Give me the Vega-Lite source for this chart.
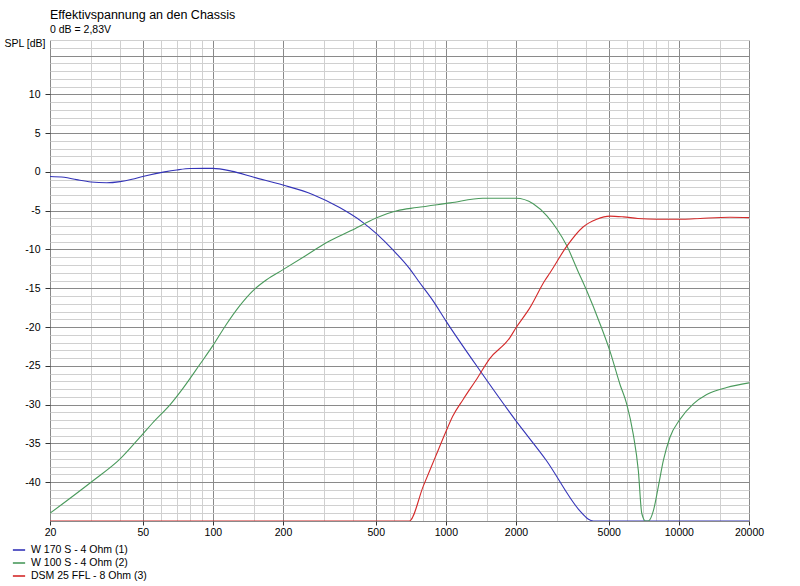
{
  "$schema": "https://vega.github.io/schema/vega-lite/v6.json",
  "width": 699,
  "height": 481,
  "autosize": {"type": "none"},
  "padding": {"left": 50, "top": 40, "right": 51, "bottom": 65},
  "background": "white",
  "title": {
    "text": "Effektivspannung an den Chassis",
    "subtitle": "0 dB = 2,83V",
    "anchor": "start",
    "frame": "group",
    "font": "Liberation Sans",
    "fontSize": 12.5,
    "fontWeight": "normal",
    "color": "#000000",
    "subtitleFont": "Liberation Sans",
    "subtitleFontSize": 10.5,
    "subtitleColor": "#000000",
    "subtitlePadding": 3,
    "offset": 0
  },
  "data": {
    "values": [
      {"f": 20, "db": -0.6, "s": "W 170 S - 4 Ohm (1)"},
      {"f": 23, "db": -0.7, "s": "W 170 S - 4 Ohm (1)"},
      {"f": 26, "db": -1.0, "s": "W 170 S - 4 Ohm (1)"},
      {"f": 30, "db": -1.3, "s": "W 170 S - 4 Ohm (1)"},
      {"f": 35, "db": -1.4, "s": "W 170 S - 4 Ohm (1)"},
      {"f": 40, "db": -1.25, "s": "W 170 S - 4 Ohm (1)"},
      {"f": 45, "db": -0.95, "s": "W 170 S - 4 Ohm (1)"},
      {"f": 50, "db": -0.6, "s": "W 170 S - 4 Ohm (1)"},
      {"f": 62, "db": 0.0, "s": "W 170 S - 4 Ohm (1)"},
      {"f": 70, "db": 0.25, "s": "W 170 S - 4 Ohm (1)"},
      {"f": 80, "db": 0.43, "s": "W 170 S - 4 Ohm (1)"},
      {"f": 100, "db": 0.45, "s": "W 170 S - 4 Ohm (1)"},
      {"f": 120, "db": 0.1, "s": "W 170 S - 4 Ohm (1)"},
      {"f": 150, "db": -0.7, "s": "W 170 S - 4 Ohm (1)"},
      {"f": 200, "db": -1.7, "s": "W 170 S - 4 Ohm (1)"},
      {"f": 268, "db": -2.9, "s": "W 170 S - 4 Ohm (1)"},
      {"f": 350, "db": -4.6, "s": "W 170 S - 4 Ohm (1)"},
      {"f": 440, "db": -6.5, "s": "W 170 S - 4 Ohm (1)"},
      {"f": 505, "db": -8.0, "s": "W 170 S - 4 Ohm (1)"},
      {"f": 590, "db": -10.0, "s": "W 170 S - 4 Ohm (1)"},
      {"f": 700, "db": -12.5, "s": "W 170 S - 4 Ohm (1)"},
      {"f": 760, "db": -14.0, "s": "W 170 S - 4 Ohm (1)"},
      {"f": 880, "db": -16.6, "s": "W 170 S - 4 Ohm (1)"},
      {"f": 1000, "db": -19.2, "s": "W 170 S - 4 Ohm (1)"},
      {"f": 1400, "db": -25.6, "s": "W 170 S - 4 Ohm (1)"},
      {"f": 2000, "db": -32.1, "s": "W 170 S - 4 Ohm (1)"},
      {"f": 2700, "db": -37.2, "s": "W 170 S - 4 Ohm (1)"},
      {"f": 3760, "db": -43.7, "s": "W 170 S - 4 Ohm (1)"},
      {"f": 4060, "db": -44.7, "s": "W 170 S - 4 Ohm (1)"},
      {"f": 4300, "db": -45, "s": "W 170 S - 4 Ohm (1)"},
      {"f": 20000, "db": -45, "s": "W 170 S - 4 Ohm (1)"},

      {"f": 20, "db": -44.0, "s": "W 100 S - 4 Ohm (2)"},
      {"f": 30, "db": -40.0, "s": "W 100 S - 4 Ohm (2)"},
      {"f": 40, "db": -37.0, "s": "W 100 S - 4 Ohm (2)"},
      {"f": 50, "db": -33.8, "s": "W 100 S - 4 Ohm (2)"},
      {"f": 55, "db": -32.4, "s": "W 100 S - 4 Ohm (2)"},
      {"f": 66, "db": -29.9, "s": "W 100 S - 4 Ohm (2)"},
      {"f": 74, "db": -28.0, "s": "W 100 S - 4 Ohm (2)"},
      {"f": 88, "db": -24.8, "s": "W 100 S - 4 Ohm (2)"},
      {"f": 100, "db": -22.4, "s": "W 100 S - 4 Ohm (2)"},
      {"f": 114, "db": -19.7, "s": "W 100 S - 4 Ohm (2)"},
      {"f": 130, "db": -17.3, "s": "W 100 S - 4 Ohm (2)"},
      {"f": 150, "db": -15.2, "s": "W 100 S - 4 Ohm (2)"},
      {"f": 170, "db": -13.9, "s": "W 100 S - 4 Ohm (2)"},
      {"f": 200, "db": -12.6, "s": "W 100 S - 4 Ohm (2)"},
      {"f": 250, "db": -10.8, "s": "W 100 S - 4 Ohm (2)"},
      {"f": 308, "db": -9.1, "s": "W 100 S - 4 Ohm (2)"},
      {"f": 390, "db": -7.6, "s": "W 100 S - 4 Ohm (2)"},
      {"f": 505, "db": -5.9, "s": "W 100 S - 4 Ohm (2)"},
      {"f": 617, "db": -5.0, "s": "W 100 S - 4 Ohm (2)"},
      {"f": 750, "db": -4.6, "s": "W 100 S - 4 Ohm (2)"},
      {"f": 1045, "db": -4.0, "s": "W 100 S - 4 Ohm (2)"},
      {"f": 1440, "db": -3.4, "s": "W 100 S - 4 Ohm (2)"},
      {"f": 2000, "db": -3.4, "s": "W 100 S - 4 Ohm (2)"},
      {"f": 2370, "db": -4.1, "s": "W 100 S - 4 Ohm (2)"},
      {"f": 2720, "db": -5.7, "s": "W 100 S - 4 Ohm (2)"},
      {"f": 3000, "db": -7.4, "s": "W 100 S - 4 Ohm (2)"},
      {"f": 3300, "db": -9.5, "s": "W 100 S - 4 Ohm (2)"},
      {"f": 3690, "db": -12.8, "s": "W 100 S - 4 Ohm (2)"},
      {"f": 4020, "db": -15.3, "s": "W 100 S - 4 Ohm (2)"},
      {"f": 4590, "db": -19.6, "s": "W 100 S - 4 Ohm (2)"},
      {"f": 5060, "db": -23.1, "s": "W 100 S - 4 Ohm (2)"},
      {"f": 5590, "db": -27.4, "s": "W 100 S - 4 Ohm (2)"},
      {"f": 5970, "db": -29.9, "s": "W 100 S - 4 Ohm (2)"},
      {"f": 6370, "db": -33.8, "s": "W 100 S - 4 Ohm (2)"},
      {"f": 6700, "db": -38.5, "s": "W 100 S - 4 Ohm (2)"},
      {"f": 6930, "db": -44.0, "s": "W 100 S - 4 Ohm (2)"},
      {"f": 7200, "db": -45, "s": "W 100 S - 4 Ohm (2)"},
      {"f": 7390, "db": -45, "s": "W 100 S - 4 Ohm (2)"},
      {"f": 7770, "db": -43.7, "s": "W 100 S - 4 Ohm (2)"},
      {"f": 8160, "db": -40.6, "s": "W 100 S - 4 Ohm (2)"},
      {"f": 8580, "db": -37.2, "s": "W 100 S - 4 Ohm (2)"},
      {"f": 9160, "db": -34.2, "s": "W 100 S - 4 Ohm (2)"},
      {"f": 10110, "db": -31.9, "s": "W 100 S - 4 Ohm (2)"},
      {"f": 11540, "db": -29.9, "s": "W 100 S - 4 Ohm (2)"},
      {"f": 13170, "db": -28.7, "s": "W 100 S - 4 Ohm (2)"},
      {"f": 16040, "db": -27.8, "s": "W 100 S - 4 Ohm (2)"},
      {"f": 20000, "db": -27.2, "s": "W 100 S - 4 Ohm (2)"},

      {"f": 20, "db": -45, "s": "DSM 25 FFL - 8 Ohm (3)"},
      {"f": 697, "db": -45, "s": "DSM 25 FFL - 8 Ohm (3)"},
      {"f": 800, "db": -40.5, "s": "DSM 25 FFL - 8 Ohm (3)"},
      {"f": 900, "db": -36.8, "s": "DSM 25 FFL - 8 Ohm (3)"},
      {"f": 1000, "db": -33.5, "s": "DSM 25 FFL - 8 Ohm (3)"},
      {"f": 1070, "db": -31.5, "s": "DSM 25 FFL - 8 Ohm (3)"},
      {"f": 1188, "db": -29.3, "s": "DSM 25 FFL - 8 Ohm (3)"},
      {"f": 1370, "db": -26.5, "s": "DSM 25 FFL - 8 Ohm (3)"},
      {"f": 1540, "db": -24.1, "s": "DSM 25 FFL - 8 Ohm (3)"},
      {"f": 1880, "db": -21.4, "s": "DSM 25 FFL - 8 Ohm (3)"},
      {"f": 2000, "db": -20.1, "s": "DSM 25 FFL - 8 Ohm (3)"},
      {"f": 2296, "db": -17.5, "s": "DSM 25 FFL - 8 Ohm (3)"},
      {"f": 2660, "db": -14.0, "s": "DSM 25 FFL - 8 Ohm (3)"},
      {"f": 2800, "db": -13.0, "s": "DSM 25 FFL - 8 Ohm (3)"},
      {"f": 3300, "db": -9.6, "s": "DSM 25 FFL - 8 Ohm (3)"},
      {"f": 3880, "db": -7.1, "s": "DSM 25 FFL - 8 Ohm (3)"},
      {"f": 4440, "db": -6.1, "s": "DSM 25 FFL - 8 Ohm (3)"},
      {"f": 5060, "db": -5.7, "s": "DSM 25 FFL - 8 Ohm (3)"},
      {"f": 5780, "db": -5.8, "s": "DSM 25 FFL - 8 Ohm (3)"},
      {"f": 6670, "db": -6.0, "s": "DSM 25 FFL - 8 Ohm (3)"},
      {"f": 8030, "db": -6.1, "s": "DSM 25 FFL - 8 Ohm (3)"},
      {"f": 10450, "db": -6.1, "s": "DSM 25 FFL - 8 Ohm (3)"},
      {"f": 12330, "db": -6.0, "s": "DSM 25 FFL - 8 Ohm (3)"},
      {"f": 16570, "db": -5.85, "s": "DSM 25 FFL - 8 Ohm (3)"},
      {"f": 20000, "db": -5.9, "s": "DSM 25 FFL - 8 Ohm (3)"}
    ]
  },
  "mark": {"type": "line", "strokeWidth": 1.1, "interpolate": "monotone", "clip": true},
  "encoding": {
    "x": {
      "field": "f",
      "type": "quantitative",
      "scale": {"type": "log", "domain": [20, 20000], "nice": false},
      "axis": {
        "title": null,
        "values": [20, 30, 40, 50, 60, 70, 80, 90, 100, 150, 200, 300, 400, 500, 600, 700, 800, 900, 1000, 1500, 2000, 3000, 4000, 5000, 6000, 7000, 8000, 9000, 10000, 15000, 20000],
        "labelExpr": "indexof([20, 50, 100, 200, 500, 1000, 2000, 5000, 10000, 20000], datum.value) >= 0 ? '' + datum.value : ''",
        "gridColor": {"condition": {"test": "indexof([20, 50, 100, 200, 500, 1000, 2000, 5000, 10000, 20000], datum.value) >= 0", "value": "#8a8a8a"}, "value": "#d0d0d0"},
        "tickOpacity": {"condition": {"test": "indexof([20, 50, 100, 200, 500, 1000, 2000, 5000, 10000, 20000], datum.value) >= 0", "value": 1}, "value": 0},
        "tickSize": 4,
        "labelPadding": 2,
        "labelFlush": false,
        "labelOverlap": false,
        "domain": false
      }
    },
    "y": {
      "field": "db",
      "type": "quantitative",
      "scale": {"domain": [-45, 17], "nice": false, "zero": false},
      "axis": {
        "title": "SPL [dB]",
        "titleAngle": 0,
        "titleAlign": "right",
        "titleBaseline": "top",
        "titleX": -5,
        "titleY": -2,
        "titleFont": "Liberation Sans",
        "titleFontSize": 10.5,
        "titleFontWeight": "normal",
        "titleColor": "#000000",
        "values": [-45, -44, -43, -42, -41, -40, -39, -38, -37, -36, -35, -34, -33, -32, -31, -30, -29, -28, -27, -26, -25, -24, -23, -22, -21, -20, -19, -18, -17, -16, -15, -14, -13, -12, -11, -10, -9, -8, -7, -6, -5, -4, -3, -2, -1, 0, 1, 2, 3, 4, 5, 6, 7, 8, 9, 10, 11, 12, 13, 14, 15, 16, 17],
        "labelExpr": "(datum.value % 5 == 0 && datum.value >= -40 && datum.value <= 10) ? '' + datum.value : ''",
        "gridColor": {"condition": {"test": "datum.value % 5 == 0", "value": "#8a8a8a"}, "value": "#d0d0d0"},
        "tickOpacity": {"condition": {"test": "datum.value % 5 == 0 && datum.value >= -40 && datum.value <= 10", "value": 1}, "value": 0},
        "tickSize": 5,
        "labelPadding": 5,
        "labelOverlap": false,
        "labelFlush": false,
        "domain": false
      }
    },
    "color": {
      "field": "s",
      "type": "nominal",
      "scale": {
        "domain": ["W 170 S - 4 Ohm (1)", "W 100 S - 4 Ohm (2)", "DSM 25 FFL - 8 Ohm (3)"],
        "range": ["#3434b8", "#4a9a5c", "#d42a2a"]
      },
      "legend": {
        "title": null,
        "orient": "none",
        "legendX": -38,
        "legendY": 503,
        "symbolType": "stroke",
        "symbolSize": 150,
        "symbolStrokeWidth": 1.6,
        "labelFont": "Liberation Sans",
        "labelFontSize": 10.5,
        "labelColor": "#000000",
        "labelOffset": 5,
        "rowPadding": 0,
        "padding": 0
      }
    }
  },
  "config": {
    "view": {"stroke": null},
    "axis": {
      "labelFont": "Liberation Sans",
      "labelFontSize": 10.5,
      "labelColor": "#000000",
      "tickColor": "#333333",
      "gridOpacity": 1,
      "gridWidth": 1
    }
  }
}
